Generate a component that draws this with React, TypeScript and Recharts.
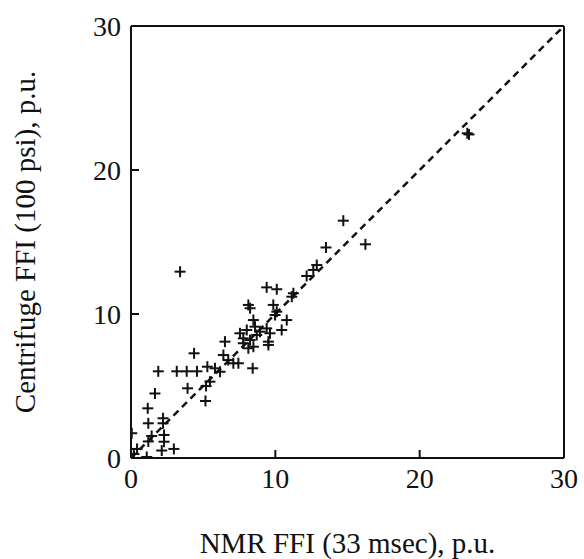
import { ScatterChart, Scatter, XAxis, YAxis, ReferenceLine } from "recharts"

// NMR FFI (33 msec), p.u.
const nmrFfi = [
  0.05, 0.42, 0.2, 1.09, 2.13, 2.97, 1.2, 1.43, 2.29, 2.29, 1.2, 2.22, 2.22, 1.16, 1.66,
  1.89, 3.17, 3.86, 4.57, 5.29, 4.37, 3.92, 5.16, 5.47, 5.2, 5.82, 6.17, 6.4, 6.51, 6.74,
  7.09, 7.44, 8.43, 7.78, 8.13, 9.52, 8.48, 8.02, 7.55, 7.78, 8.25, 9.4, 8.94, 8.71, 9.63,
  9.52, 8.48, 8.59, 10.44, 10.79, 10.1, 9.98, 9.86, 8.13, 8.25, 9.4, 10.1, 11.25, 11.14,
  12.17, 12.63, 12.87, 13.51, 14.71, 16.24, 3.4, 23.42, 23.3,
]

// Centrifuge FFI (100 psi), p.u.
const centrifugeFfi = [
  1.72, 0.63, 0.28, 0.07, 0.52, 0.63, 1.15, 1.53, 1.13, 1.6, 2.41, 2.41, 2.76, 3.45, 4.48,
  6.02, 6.02, 6.02, 6.02, 6.34, 7.27, 4.84, 3.96, 5.3, 5.0, 6.23, 5.99, 7.15, 8.08, 6.8,
  6.58, 6.58, 6.23, 7.97, 7.62, 7.85, 7.73, 8.89, 8.66, 8.31, 8.19, 9.0, 8.77, 8.54, 8.66,
  8.08, 9.58, 9.12, 8.89, 9.58, 10.16, 9.93, 10.63, 10.63, 10.4, 11.85, 11.72, 11.44, 11.2,
  12.64, 13.06, 13.4, 14.62, 16.48, 14.84, 12.94, 22.47, 22.55,
]

const labelTicks = [0, 10, 20, 30]
const frameTicks = [10, 20]
const oneToOne = [0, 30]

const points = nmrFfi.map((x, i) => ({ x, y: centrifugeFfi[i] }))

const ink = "#111"
const serif = "'Liberation Serif', 'Times New Roman', serif"
const tickFont = { fill: ink, fontSize: 28, fontFamily: serif }

function Cross(props: any) {
  const { cx, cy } = props
  if (cx == null || cy == null) return null
  const s = 5.5
  return (
    <g stroke={ink} strokeWidth={2}>
      <line x1={cx - s} y1={cy} x2={cx + s} y2={cy} />
      <line x1={cx} y1={cy - s} x2={cx} y2={cy + s} />
    </g>
  )
}

export default function App() {
  return (
    <div style={{ position: "absolute", left: 0, top: 0, width: 584, height: 559, background: "#fff" }}>
      <ScatterChart width={584} height={559} margin={{ top: 0, right: 0, left: 0, bottom: 0 }}>
        <XAxis
          xAxisId="b"
          type="number"
          dataKey="x"
          domain={[0, 30]}
          ticks={labelTicks}
          orientation="bottom"
          height={101}
          tickSize={-8}
          tickMargin={18}
          tick={tickFont}
          stroke={ink}
          strokeWidth={2}
          allowDataOverflow
          label={{
            content: (p: any) => {
              const vb = p.viewBox || {}
              return (
                <text
                  x={vb.x + vb.width / 2}
                  y={vb.y + 95}
                  textAnchor="middle"
                  fill={ink}
                  fontSize={29}
                  fontFamily={serif}
                >
                  NMR FFI (33 msec), p.u.
                </text>
              )
            },
          }}
        />
        <XAxis
          xAxisId="t"
          type="number"
          dataKey="x"
          domain={[0, 30]}
          ticks={frameTicks}
          orientation="top"
          height={26}
          tickSize={-8}
          tick={false}
          stroke={ink}
          strokeWidth={2}
          allowDataOverflow
        />
        <YAxis
          yAxisId="l"
          type="number"
          dataKey="y"
          domain={[0, 30]}
          ticks={labelTicks}
          orientation="left"
          width={131}
          tickSize={-8}
          tickMargin={18}
          tick={tickFont}
          stroke={ink}
          strokeWidth={2}
          allowDataOverflow
          label={{
            content: (p: any) => {
              const vb = p.viewBox || {}
              const cy = vb.y + vb.height / 2
              return (
                <text
                  transform={`translate(35, ${cy}) rotate(-90)`}
                  textAnchor="middle"
                  fill={ink}
                  fontSize={29}
                  fontFamily={serif}
                >
                  Centrifuge FFI (100 psi), p.u.
                </text>
              )
            },
          }}
        />
        <YAxis
          yAxisId="r"
          type="number"
          dataKey="y"
          domain={[0, 30]}
          ticks={frameTicks}
          orientation="right"
          width={20}
          tickSize={-8}
          tick={false}
          stroke={ink}
          strokeWidth={2}
          allowDataOverflow
        />
        <ReferenceLine
          xAxisId="b"
          yAxisId="l"
          segment={[
            { x: oneToOne[0], y: oneToOne[0] },
            { x: oneToOne[1], y: oneToOne[1] },
          ]}
          stroke={ink}
          strokeWidth={2.5}
          strokeDasharray="7 5"
          ifOverflow="hidden"
        />
        <Scatter
          xAxisId="b"
          yAxisId="l"
          data={points}
          shape={<Cross />}
          isAnimationActive={false}
        />
      </ScatterChart>
    </div>
  )
}
